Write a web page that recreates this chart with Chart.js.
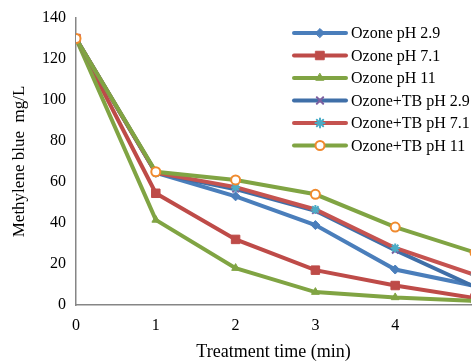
<!DOCTYPE html>
<html>
<head>
<meta charset="utf-8">
<script src="https://cdn.jsdelivr.net/npm/chart.js@4.4.1/dist/chart.umd.min.js"></script>
<style>
  html, body { margin: 0; padding: 0; background: #fff; overflow: hidden; }
  #wrap { width: 472px; height: 363px; overflow: hidden; }
</style>
</head>
<body>
<div id="wrap"><canvas id="chart" width="478" height="363"></canvas></div>
<script>
const times = [0, 1, 2, 3, 4, 5];
const seriesNames = [
  "Ozone pH 2.9",
  "Ozone pH 7.1",
  "Ozone pH 11",
  "Ozone+TB pH 2.9",
  "Ozone+TB pH 7.1",
  "Ozone+TB pH 11",
];
const ozonePh29 = [130, 64.5, 53, 39, 17.3, 9.3];
const ozonePh71 = [130, 54.5, 32, 17, 9.5, 3.4];
const ozonePh11 = [130, 41.5, 18, 6.3, 3.7, 2];
const tbPh29 = [130, 64.5, 56.5, 46, 26.7, 8.8];
const tbPh71 = [130, 64.5, 57.5, 46.6, 27.8, 14.7];
const tbPh11 = [130, 65, 61, 54, 38, 25.6];
const yTicks = [0, 20, 40, 60, 80, 100, 120, 140];
const xTicks = [0, 1, 2, 3, 4];

const serif = "'Liberation Serif', 'Times New Roman', serif";
const lineColors = ["#4A7EBB", "#BE4B48", "#80A443", "#3F6FA8", "#C55350", "#80A443"];
const markerStyles = [
  { pointStyle: "rectRot", radius: 4.5, fill: "#4A7EBB", stroke: "#4A7EBB", bw: 1 },
  { pointStyle: "rect", radius: 6, fill: "#BE4B48", stroke: "#BE4B48", bw: 1 },
  { pointStyle: "triangle", radius: 4.5, fill: "#80A443", stroke: "#80A443", bw: 1 },
  { pointStyle: "crossRot", radius: 4.5, fill: "#7D60A0", stroke: "#7D60A0", bw: 2 },
  { pointStyle: "star", radius: 4.5, fill: "#4BACC6", stroke: "#4BACC6", bw: 2 },
  { pointStyle: "circle", radius: 4.5, fill: "#ffffff", stroke: "#F08A2E", bw: 2 },
];
const allValues = [ozonePh29, ozonePh71, ozonePh11, tbPh29, tbPh71, tbPh11];

const datasets = allValues.map((vals, i) => ({
  label: seriesNames[i],
  data: times.map((t, j) => ({ x: t, y: vals[j] })),
  borderColor: lineColors[i],
  borderWidth: 4,
  pointStyle: markerStyles[i].pointStyle,
  pointRadius: markerStyles[i].radius,
  pointBackgroundColor: markerStyles[i].fill,
  pointBorderColor: markerStyles[i].stroke,
  pointBorderWidth: markerStyles[i].bw,
  tension: 0,
  order: 6 - i,
}));

// legend drawn inside plot area, top right
const insideLegend = {
  id: "insideLegend",
  afterDraw(chart) {
    const ctx = chart.ctx;
    ctx.save();
    seriesNames.forEach((name, i) => {
      const y = 33 + i * 22.5;
      ctx.strokeStyle = lineColors[i];
      ctx.lineWidth = 4;
      ctx.lineCap = "round";
      ctx.beginPath();
      ctx.moveTo(294, y);
      ctx.lineTo(346, y);
      ctx.stroke();
      const m = markerStyles[i];
      ctx.fillStyle = m.fill;
      ctx.strokeStyle = m.stroke;
      ctx.lineWidth = m.bw;
      Chart.helpers.drawPoint(ctx, { pointStyle: m.pointStyle, radius: m.radius, borderWidth: m.bw, rotation: 0 }, 320, y);
      ctx.fillStyle = "#000";
      ctx.font = "16px " + serif;
      ctx.textAlign = "left";
      ctx.textBaseline = "middle";
      ctx.fillText(name, 351, y + 1);
    });
    ctx.restore();
  },
};

new Chart(document.getElementById("chart"), {
  type: "line",
  data: { datasets: datasets },
  options: {
    responsive: false,
    animation: false,
    layout: { padding: { left: 0, right: 0, top: 18, bottom: 0 } },
    plugins: { legend: { display: false }, tooltip: { enabled: false } },
    scales: {
      x: {
        type: "linear",
        min: 0,
        max: 4.95,
        afterBuildTicks: (s) => { s.ticks = xTicks.map((v) => ({ value: v })); },
        grid: { display: false, drawTicks: true, tickLength: 5, tickColor: "#868686" },
        border: { color: "#868686", width: 1.5 },
        ticks: { color: "#000", font: { family: serif, size: 16 }, padding: 6, maxRotation: 0 },
        title: { display: true, text: "Treatment time (min)", color: "#000", font: { family: serif, size: 18 }, padding: { top: 4, bottom: 0 } },
        afterFit: (s) => { s.height = 58; },
      },
      y: {
        min: 0,
        max: 140,
        afterBuildTicks: (s) => { s.ticks = yTicks.map((v) => ({ value: v })); },
        grid: { display: false, drawTicks: true, tickLength: 5, tickColor: "#868686" },
        border: { color: "#868686", width: 1.5 },
        ticks: { color: "#000", font: { family: serif, size: 16 }, padding: 5 },
        title: { display: true, text: "Methylene blue  mg/L", color: "#000", font: { family: serif, size: 17 }, padding: { top: 9, bottom: 2 } },
        afterFit: (s) => { s.width = 76; },
      },
    },
  },
  plugins: [insideLegend],
});
</script>
</body>
</html>
